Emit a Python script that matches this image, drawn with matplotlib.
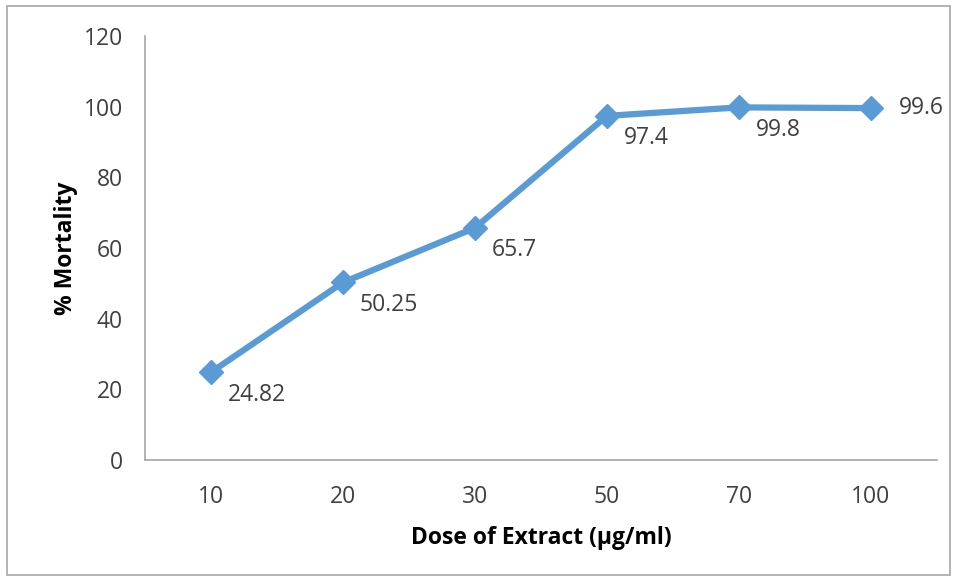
import matplotlib.pyplot as plt
from matplotlib.patches import Rectangle

doses = ['10', '20', '30', '50', '70', '100']
mortality = [24.82, 50.25, 65.7, 97.4, 99.8, 99.6]
labels = ['24.82', '50.25', '65.7', '97.4', '99.8', '99.6']

plt.rcParams['font.family'] = ['Open Sans', 'DejaVu Sans']
FS = 16.5

fig = plt.figure(figsize=(9.57, 5.81), dpi=100)
ax = fig.add_axes([0.1515, 0.2083, 0.8275, 0.7297])

x = range(len(doses))
ax.plot(x, mortality, color='#5B9BD5', lw=4.5, marker='D', ms=12,
        markeredgecolor='#5B9BD5', solid_joinstyle='round')

for i, (v, t) in enumerate(zip(mortality, labels)):
    if i == len(doses) - 1:
        ax.annotate(t, (i, v), xytext=(20, 0), textcoords='offset points',
                    ha='left', va='center', fontsize=FS, color='#404040')
    else:
        ax.annotate(t, (i, v), xytext=(12, -16), textcoords='offset points',
                    ha='left', va='center', fontsize=FS, color='#404040')

ax.set_xlim(-0.5, len(doses) - 0.5)
ax.set_ylim(0, 120)
ax.set_xticks(list(x))
ax.set_xticklabels(doses)
ax.set_yticks(range(0, 121, 20))
ax.tick_params(length=0, labelsize=FS, labelcolor='#404040')
ax.tick_params(axis='x', pad=18)
ax.tick_params(axis='y', pad=16)

for s in ['top', 'right']:
    ax.spines[s].set_visible(False)
for s in ['left', 'bottom']:
    ax.spines[s].set_color('#A6A6A6')
    ax.spines[s].set_linewidth(1.2)

ax.set_xlabel('Dose of Extract (µg/ml)', fontsize=FS, fontweight='bold')
ax.set_ylabel('% Mortality', fontsize=FS, fontweight='bold')
ax.xaxis.set_label_coords(0.5, -0.155)
ax.yaxis.set_label_coords(-0.085, 0.5)

# outer chart border
fig.patches.append(Rectangle((0.007, 0.01), 0.986, 0.979, transform=fig.transFigure,
                             fill=False, edgecolor='#A6A6A6', lw=1.2))

fig.savefig('out.png')
